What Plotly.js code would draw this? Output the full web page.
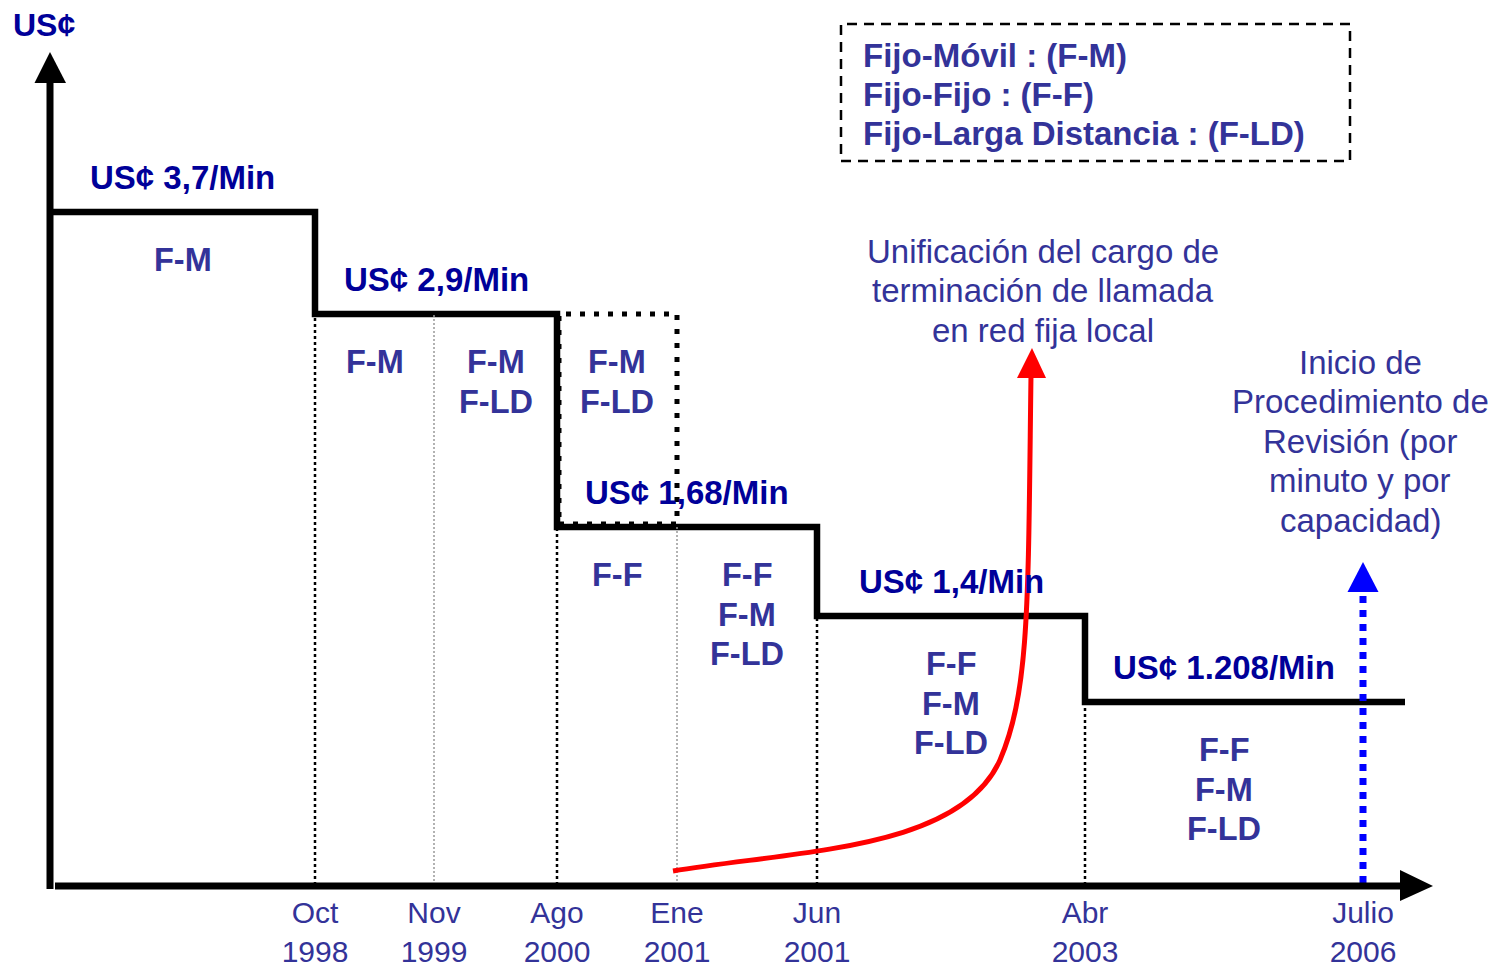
<!DOCTYPE html>
<html><head><meta charset="utf-8">
<script src="https://cdn.plot.ly/plotly-3.0.1.min.js"></script>
<style>html,body{margin:0;padding:0;background:#fff}#chart{width:1500px;height:973px}</style>
</head><body><div id="chart"></div>
<script>
// ---- data (schematic timeline, as in the original diagram) ----
const tickMonths = ['Oct', 'Nov', 'Ago', 'Ene', 'Jun', 'Abr', 'Julio'];
const tickYears  = ['1998', '1999', '2000', '2001', '2001', '2003', '2006'];
const tickPos    = [2.65, 3.84, 5.07, 6.27, 7.67, 10.35, 13.13];   // schematic position on the timeline

const rateValues = [3.7, 2.9, 1.68, 1.4, 1.208];
const rateLabels = ['US¢ 3,7/Min', 'US¢ 2,9/Min', 'US¢ 1,68/Min', 'US¢ 1,4/Min', 'US¢ 1.208/Min'];
const stepStart  = [0, 2.65, 5.07, 7.67, 10.35];
const stepEnd    = 13.55;
const stepLevel  = [6.73, 5.71, 3.58, 2.69, 1.83];                 // drawn (schematic) height of each rate

const segFrom     = [0, 2.65, 3.84, 5.07, 5.07, 6.27, 7.67, 10.35];
const segTo       = [2.65, 3.84, 5.07, 6.27, 6.27, 7.67, 10.35, 13.13];
const segLevel    = [6.73, 5.71, 5.71, 5.71, 3.58, 3.58, 2.69, 1.83];
const segServices = [['F-M'], ['F-M'], ['F-M', 'F-LD'], ['F-M', 'F-LD'], ['F-F'],
                     ['F-F', 'F-M', 'F-LD'], ['F-F', 'F-M', 'F-LD'], ['F-F', 'F-M', 'F-LD']];

const legendLines  = ['Fijo-Móvil : (F-M)', 'Fijo-Fijo : (F-F)', 'Fijo-Larga Distancia : (F-LD)'];
const unifLines    = ['Unificación del cargo de', 'terminación de llamada', 'en red fija local'];
const revisionLines = ['Inicio de', 'Procedimiento de', 'Revisión (por', 'minuto y por', 'capacidad)'];

// ---- styling ----
const FONT = 'Liberation Sans, Arial, Helvetica, sans-serif';
const NAVY = '#000099', TXT = '#333399';

const annotations = [];
function textLines(arr, x, y, spacing, size, bold, color, xanchor) {
  arr.forEach((t, i) => annotations.push({
    x: x, y: y, xref: 'x', yref: 'y', showarrow: false,
    text: bold ? '<b>' + t + '</b>' : t,
    xanchor: xanchor || 'center', yanchor: 'middle', yshift: -i * spacing,
    font: {family: FONT, size: size, color: color}
  }));
}

// rate labels centred over each step
rateLabels.forEach((lab, i) => {
  const a = stepStart[i];
  const b = i + 1 < stepStart.length ? stepStart[i + 1] : tickPos[tickPos.length - 1];
  textLines([lab], (a + b) / 2, stepLevel[i] + 0.35, 0, 33, true, NAVY);
});
// service labels in each period
segServices.forEach((s, i) => {
  textLines(s, (segFrom[i] + segTo[i]) / 2, segLevel[i] - 0.48, 39.5, 32.5, true, TXT);
});
textLines(['US¢'], -0.065, 8.6, 0, 32, true, NAVY);
textLines(legendLines, 8.11, 8.30, 39, 33, true, TXT, 'left');
textLines(unifLines, 9.93, 6.34, 39.5, 33, false, TXT);
textLines(revisionLines, 13.10, 5.23, 39.5, 33, false, TXT);

// ---- shapes ----
const shapes = [];
const black = '#000000';
// vertical guide lines
tickPos.forEach((p, i) => {
  let lvl = null;
  for (let k = 0; k < stepStart.length; k++) if (stepStart[k] <= p + 1e-9) lvl = stepLevel[k];
  const isStep = stepStart.some(s => Math.abs(s - p) < 1e-9);
  if (i === tickPos.length - 1) {
    // review arrow (blue, dotted)
    shapes.push({type: 'line', xref: 'x', yref: 'y', x0: p, x1: p, y0: 0.02, y1: 2.92,
      line: {color: '#0000ff', width: 7, dash: '7px,7px'}});
    shapes.push({type: 'path', xref: 'x', yref: 'y',
      path: `M ${p - 0.155},2.93 L ${p + 0.155},2.93 L ${p},3.23 Z`, fillcolor: '#0000ff', line: {width: 0}});
  } else if (isStep) {
    const k = stepStart.findIndex(s => Math.abs(s - p) < 1e-9);
    shapes.push({type: 'line', xref: 'x', yref: 'y', x0: p, x1: p, y0: 0, y1: stepLevel[k],
      line: {color: black, width: 2.5, dash: '3px,3px'}});
  } else {
    shapes.push({type: 'line', xref: 'x', yref: 'y', x0: p, x1: p, y0: 0, y1: lvl,
      line: {color: '#999999', width: 1.5, dash: '2px,2px'}});
  }
});
// dotted box (hypothetical continuation of previous rate)
shapes.push({type: 'rect', xref: 'x', yref: 'y', x0: 5.09, x1: 6.27, y0: 3.61, y1: 5.71,
  line: {color: black, width: 5, dash: '5px,9px'}, fillcolor: 'rgba(0,0,0,0)'});
// y axis + arrow
shapes.push({type: 'line', xref: 'x', yref: 'y', x0: 0, x1: 0, y0: -0.04, y1: 8.05, line: {color: black, width: 7}});
shapes.push({type: 'path', xref: 'x', yref: 'y', path: 'M -0.155,8.02 L 0.16,8.02 L 0,8.33 Z', fillcolor: black, line: {width: 0}});
// x axis + arrow
shapes.push({type: 'line', xref: 'x', yref: 'y', x0: 0.05, x1: 13.55, y0: -0.01, y1: -0.01, line: {color: black, width: 7}});
shapes.push({type: 'path', xref: 'x', yref: 'y', path: 'M 13.5,0.15 L 13.5,-0.16 L 13.83,-0.01 Z', fillcolor: black, line: {width: 0}});
// red curved arrow (unification)
shapes.push({type: 'path', xref: 'x', yref: 'y',
  path: 'M 6.23,0.14 C 7.50,0.35 9.10,0.35 9.50,1.25 C 9.80,1.95 9.78,2.85 9.81,5.10',
  line: {color: '#ff0000', width: 5}, fillcolor: 'rgba(0,0,0,0)'});
shapes.push({type: 'path', xref: 'x', yref: 'y', path: 'M 9.67,5.07 L 9.96,5.07 L 9.82,5.37 Z',
  fillcolor: '#ff0000', line: {width: 0}});
// dashed legend box
shapes.push({type: 'rect', xref: 'x', yref: 'y', x0: 7.91, x1: 13.0, y0: 7.24, y1: 8.61,
  line: {color: black, width: 2.5, dash: '10px,7px'}, fillcolor: 'rgba(0,0,0,0)'});

// ---- trace: the step line of rates ----
const stepTrace = {
  type: 'scatter', mode: 'lines', hoverinfo: 'skip',
  x: stepStart.concat([stepEnd]),
  y: stepLevel.concat([stepLevel[stepLevel.length - 1]]),
  customdata: rateValues.concat([rateValues[rateValues.length - 1]]),
  line: {shape: 'hv', color: black, width: 6.5}
};

const layout = {
  width: 1500, height: 973,
  margin: {l: 0, r: 0, t: 0, b: 0},
  paper_bgcolor: '#ffffff', plot_bgcolor: '#ffffff',
  showlegend: false,
  xaxis: {
    range: [-0.5, 14.5], showgrid: false, zeroline: false, showline: false, automargin: false,
    anchor: 'free', position: 88 / 973,
    tickvals: tickPos, ticktext: tickMonths.map((m, i) => m + '<br>' + tickYears[i]),
    ticks: '', tickfont: {family: FONT, size: 30, color: TXT}, ticklabelstandoff: 7
  },
  yaxis: {range: [-0.88, 8.85], visible: false, fixedrange: true},
  shapes: shapes,
  annotations: annotations
};

Plotly.newPlot('chart', [stepTrace], layout, {staticPlot: true, displayModeBar: false});
</script>
</body></html>
